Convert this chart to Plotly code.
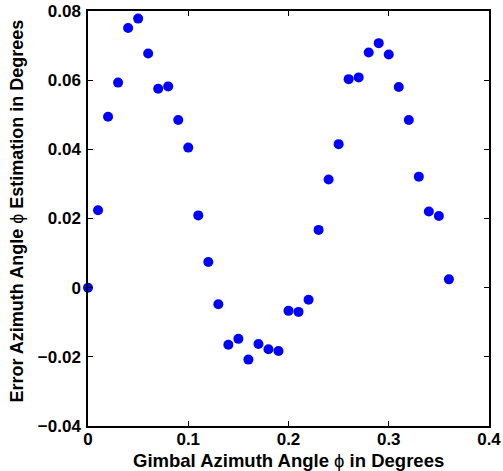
import plotly.graph_objects as go

# Gimbal azimuth angle (degrees) and azimuth estimation error (degrees)
azimuth = [0.00, 0.01, 0.02, 0.03, 0.04, 0.05, 0.06, 0.07, 0.08, 0.09,
           0.10, 0.11, 0.12, 0.13, 0.14, 0.15, 0.16, 0.17, 0.18, 0.19,
           0.20, 0.21, 0.22, 0.23, 0.24, 0.25, 0.26, 0.27, 0.28, 0.29,
           0.30, 0.31, 0.32, 0.33, 0.34, 0.35, 0.36]
error = [0.0000, 0.0224, 0.0494, 0.0593, 0.0751, 0.0778, 0.0677, 0.0575, 0.0582, 0.0485,
         0.0405, 0.0209, 0.0074, -0.0048, -0.0165, -0.0148, -0.0208, -0.0163, -0.0178, -0.0183,
         -0.0067, -0.0070, -0.0035, 0.0167, 0.0313, 0.0415, 0.0603, 0.0608, 0.0680, 0.0707,
         0.0674, 0.0580, 0.0485, 0.0321, 0.0220, 0.0207, 0.0024]

x_ticks = [0, 0.1, 0.2, 0.3, 0.4]
x_labels = ["0", "0.1", "0.2", "0.3", "0.4"]
y_ticks = [-0.04, -0.02, 0, 0.02, 0.04, 0.06, 0.08]
y_labels = ["\u22120.04", "\u22120.02", "0", "0.02", "0.04", "0.06", "0.08"]

font_family = "Liberation Sans, Arial, sans-serif"
tick_font = dict(family=font_family, size=17, color="black", weight="bold")
xtitle_font = dict(family=font_family, size=18.5, color="black")
ytitle_font = dict(family=font_family, size=18, color="black")

fig = go.Figure(
    go.Scatter(
        x=azimuth, y=error, mode="markers",
        marker=dict(color="#0000ff", size=10, symbol="circle", line=dict(width=0)),
        cliponaxis=False,
    )
)

axis_common = dict(
    showgrid=False, zeroline=False, showline=True, linecolor="black", linewidth=1.5,
    mirror="ticks", ticks="inside", ticklen=5, tickwidth=1, tickcolor="black",
    tickfont=tick_font, automargin=False,
)

fig.update_xaxes(range=[0, 0.4], tickvals=x_ticks, ticktext=x_labels, ticklabelstandoff=-3,
                 **axis_common)
fig.update_yaxes(range=[-0.04, 0.08], tickvals=y_ticks, ticktext=y_labels, ticklabelstandoff=2,
                 **axis_common)

# axis titles placed as annotations in paper coordinates
fig.add_annotation(
    text="<b>Gimbal Azimuth Angle </b>\u03d5<b> in Degrees</b>",
    xref="paper", yref="paper", x=0.5, y=0, yshift=-34,
    xanchor="center", yanchor="middle", showarrow=False, font=xtitle_font,
)
fig.add_annotation(
    text="<b>Error Azimuth Angle </b>\u03d5<b> Estimation in Degrees</b>",
    xref="paper", yref="paper", x=0, y=0.5, xshift=-72, yshift=7, textangle=-90,
    xanchor="center", yanchor="middle", showarrow=False, font=ytitle_font,
)

fig.update_layout(
    width=503, height=471,
    margin=dict(l=88, r=14, t=11, b=45),
    paper_bgcolor="white", plot_bgcolor="white",
    showlegend=False,
)

fig.write_html("out.html")
